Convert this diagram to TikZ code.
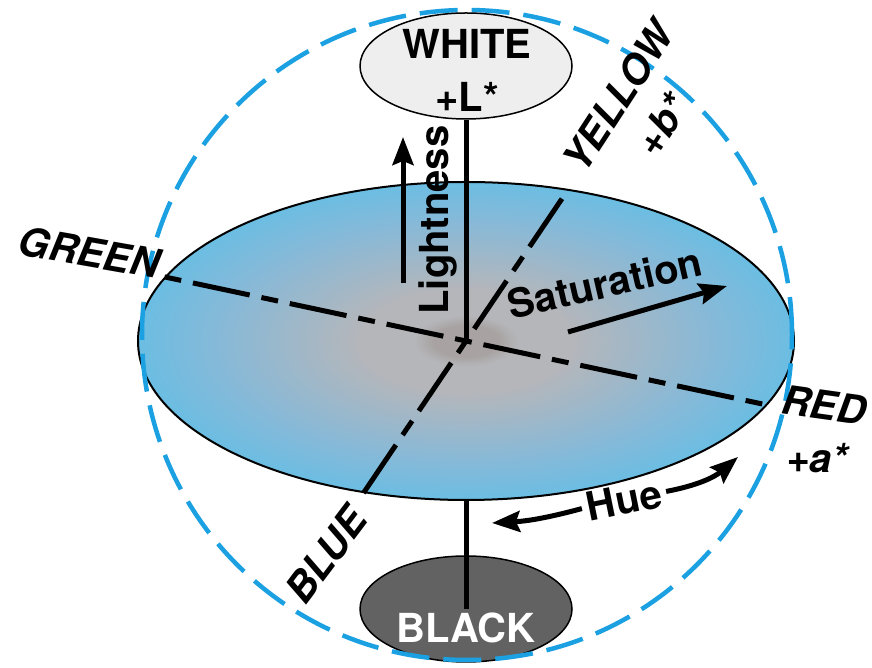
\documentclass[tikz,border=0pt]{standalone}
\usepackage{fontspec}
\setmainfont{TeX Gyre Heros}
\usetikzlibrary{arrows.meta,shapes.geometric}

\definecolor{discblue}{HTML}{4CC2EF}
\definecolor{discmid}{HTML}{86B9D8}
\definecolor{disccore}{HTML}{B5B6BA}
\definecolor{discdot}{HTML}{A8A3A2}
\definecolor{ringblue}{HTML}{1BA0E2}
\definecolor{whitefill}{HTML}{EEEEEE}
\definecolor{blackfill}{HTML}{626262}

\pgfdeclareradialshading{discshade}{\pgfpoint{0bp}{0bp}}{color(0bp)=(discdot); color(2.5bp)=(discdot); color(4bp)=(disccore); color(8bp)=(disccore); color(19bp)=(discmid); color(32bp)=(discblue); color(50bp)=(discblue)}

\begin{document}
\begin{tikzpicture}[
        x=1pt, y=1pt,
        pole/.style={ellipse, draw, line width=1.5pt, minimum width=212pt, minimum height=106pt, inner sep=0pt},
        lbl/.style={font=\fontsize{40}{53}\selectfont\bfseries, inner sep=0pt},
        cname/.style={lbl, font=\fontsize{40}{53}\selectfont\bfseries\itshape},
        axis/.style={line width=5pt, dash pattern=on 58pt off 12pt on 17pt off 12pt},
        stem/.style={line width=5pt},
        arr/.style={-{Stealth[length=28pt, width=21pt, inset=4pt]}, line width=5pt},
    ]

    \useasboundingbox (0,0) rectangle (872,668);

    % ----- Black pole (below the disc) -----
    \coordinate (o) at (466,327);
    \node[pole, fill=blackfill] (black) at (466,59) {};
    \node[lbl, text=white] (blacklbl) at (466,40) {BLACK};
    \draw[stem] (black.center) -- (o);

    % ----- Hue disc -----
    \node[ellipse, draw, line width=2pt, minimum width=656pt, minimum height=318pt, inner sep=0pt, shading=discshade] (disc) at (o) {};
    \draw[axis, dash phase=70pt] (disc.168) -- (disc.-12);
    \draw[axis] (disc.236) -- (disc.56);

    % ----- Sphere outline -----
    \node[circle, draw=ringblue, line width=4.5pt, dash pattern=on 38pt off 14pt, minimum size=650pt, inner sep=0pt] (sphere) at (467,333) {};

    % ----- White pole (above the disc) -----
    \node[pole, fill=whitefill] (white) at (466,602) {};
    \node[lbl, align=center] (whitelbl) at (467,598) {WHITE\\+L*};
    \draw[stem] (white.south) -- (o);

    % ----- Lightness -----
    \coordinate (lt0) at (403,385);
    \coordinate (lt1) at (403,531);
    \draw[arr] (lt0) -- (lt1);
    \node[lbl, rotate=90] (lightness) at (438,448) {Lightness};

    % ----- Saturation -----
    \node[lbl, rotate=13] (saturation) at (605,385) {Saturation};
    \coordinate (sat0) at (568,336);
    \coordinate (sat1) at (727,382);
    \draw[arr] (sat0) -- (sat1);

    % ----- Hue -----
    \node[lbl, rotate=11.5, inner sep=5pt] (hue) at (624,168) {Hue};
    \coordinate (hueL) at (492,145);
    \coordinate (hueR) at (738,211);
    \draw[arr] (hue.west) to[bend left=6] (hueL);
    \draw[arr] (hue.east) to[bend right=15] (hueR);

    % ----- Axis ends -----
    \node[cname, rotate=-10] (green) at (89,416) {GREEN};
    \node[cname, rotate=-8] (red) at (824,263) {RED};
    \node[cname] (aplus) at (817,210) {+a*};
    \node[cname, rotate=57] (yellow) at (618,571) {YELLOW};
    \node[cname, rotate=57] (bplus) at (662,543) {+b*};
    \node[cname, rotate=53] (blue) at (326,113) {BLUE};

\end{tikzpicture}
\end{document}
